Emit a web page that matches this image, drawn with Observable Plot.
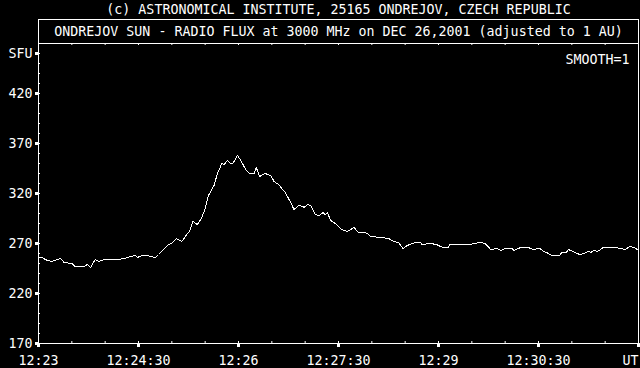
<!DOCTYPE html>
<html><head><meta charset="utf-8">
<script src="https://cdn.jsdelivr.net/npm/d3@7"></script>
<script src="https://cdn.jsdelivr.net/npm/@observablehq/plot@0.6"></script>
<style>html,body{margin:0;padding:0;background:#000;}</style>
</head><body><div id="chart"></div>
<script>
const titleTop = "(c) ASTRONOMICAL INSTITUTE, 25165 ONDREJOV, CZECH REPUBLIC";
const titleBox = "ONDREJOV SUN - RADIO FLUX at 3000 MHz on DEC 26,2001 (adjusted to 1 AU)";
const smoothLabel = "SMOOTH=1";

// seconds after 12:23:00 UT
const seconds = [0,3,8,12,20,23,30,33,41,44,47,51,54,59,71,77,83,87,89,93,98,105,108,117,120,124,129,134,136,139,143,147,150,153,158,161,165,167,170,173,175,179,181,187,190,194,196,199,204,209,212,216,222,226,230,234,238,239,242,245,249,253,256,258,260,263,267,273,278,284,288,293,296,299,309,315,320,324,326,328,332,336,340,344,345,353,358,364,369,370,389,392,398,402,407,413,416,420,426,428,434,441,445,451,455,459,462,469,471,475,477,481,483,487,491,495,497,500,503,506,508,513,519,524,528,532,536,539];
// solar radio flux, SFU
const flux = [256,256,253,252,255,251,250,247,247,249,246,254,252,254,254,255,257,258,256,258,258,256,259,269,270,275,272,280,282,292,289,296,305,318,328,340,350,349,353,350,350,358,355,343,340,340,346,337,340,338,332,329,321,313,304,308,307,306,309,308,299,298,301,299,301,293,290,284,282,286,281,281,280,277,276,275,272,271,268,265,268,270,271,271,269,270,269,266,266,269,269,270,271,270,264,265,263,265,265,263,266,266,264,265,262,260,258,258,261,261,264,262,261,259,260,262,261,263,262,264,266,266,266,265,264,267,266,264];

const xTickSeconds = [0, 90, 180, 270, 360, 450];
const xTickLabels = ["12:23", "12:24:30", "12:26", "12:27:30", "12:29", "12:30:30"];
const xEndSeconds = [540];
const xEndLabel = ["UT"];
const xMajorSeconds = [0, 90, 180, 270, 360, 450, 540];
const xMinorSeconds = [0, 30, 60, 90, 120, 150, 180, 210, 240, 270, 300, 330, 360, 390, 420, 450, 480, 510, 540];
const yTickValues = [170, 220, 270, 320, 370, 420, 460];
const yTickLabels = ["170", "220", "270", "320", "370", "420", "SFU"];
const yMinorValues = [170, 180, 190, 200, 210, 220, 230, 240, 250, 260, 270, 280, 290, 300, 310, 320, 330, 340, 350, 360, 370, 380, 390, 400, 410, 420, 430, 440, 450, 460];
const yHeaderLine = [470];

const data = seconds.map((s, i) => ({s, v: flux[i]}));

const chart = Plot.plot({
  width: 640,
  height: 368,
  marginLeft: 38,
  marginRight: 2,
  marginTop: 19,
  marginBottom: 25,
  style: {background: "#000", color: "#fff", fontFamily: "'DejaVu Sans Mono', monospace", fontSize: "13.3px"},
  x: {domain: [0, 540], axis: null},
  y: {domain: [170, 494], axis: null},
  marks: [
    Plot.frame({stroke: "#fff"}),
    Plot.ruleY(yHeaderLine, {stroke: "#fff"}),
    Plot.ruleX(xMinorSeconds, {y1: 470, y2: 468, stroke: "#fff"}),
    Plot.ruleX(xMinorSeconds, {y1: 170, y2: 172, stroke: "#fff"}),
    Plot.ruleX(xMajorSeconds, {y1: 170, y2: 166, stroke: "#fff", strokeWidth: 3}),
    Plot.ruleY(yMinorValues, {x1: 0, x2: 1.8, stroke: "#fff"}),
    Plot.ruleY(yTickValues, {x1: -2.7, x2: 0, stroke: "#fff", strokeWidth: 3}),
    Plot.line(data, {x: "s", y: "v", stroke: "#fff", strokeWidth: 1, shapeRendering: "crispEdges"}),
    Plot.text(xTickSeconds, {x: d => d, text: (d, i) => xTickLabels[i], frameAnchor: "bottom", dy: 17, textAnchor: "middle", lineAnchor: "middle"}),
    Plot.text(xEndSeconds, {x: d => d, text: (d, i) => xEndLabel[i], frameAnchor: "bottom", dy: 17, textAnchor: "end", lineAnchor: "middle"}),
    Plot.text(yTickValues, {y: d => d, text: (d, i) => yTickLabels[i], frameAnchor: "left", dx: -6, textAnchor: "end", lineAnchor: "middle"}),
    Plot.text([titleTop], {frameAnchor: "top", dy: -10, textAnchor: "middle", lineAnchor: "middle"}),
    Plot.text([titleBox], {frameAnchor: "top", dy: 12, textAnchor: "middle", lineAnchor: "middle"}),
    Plot.text([smoothLabel], {frameAnchor: "top-right", dx: -9, dy: 40, textAnchor: "end", lineAnchor: "middle"})
  ]
});
document.getElementById("chart").appendChild(chart);
</script>
</body></html>
